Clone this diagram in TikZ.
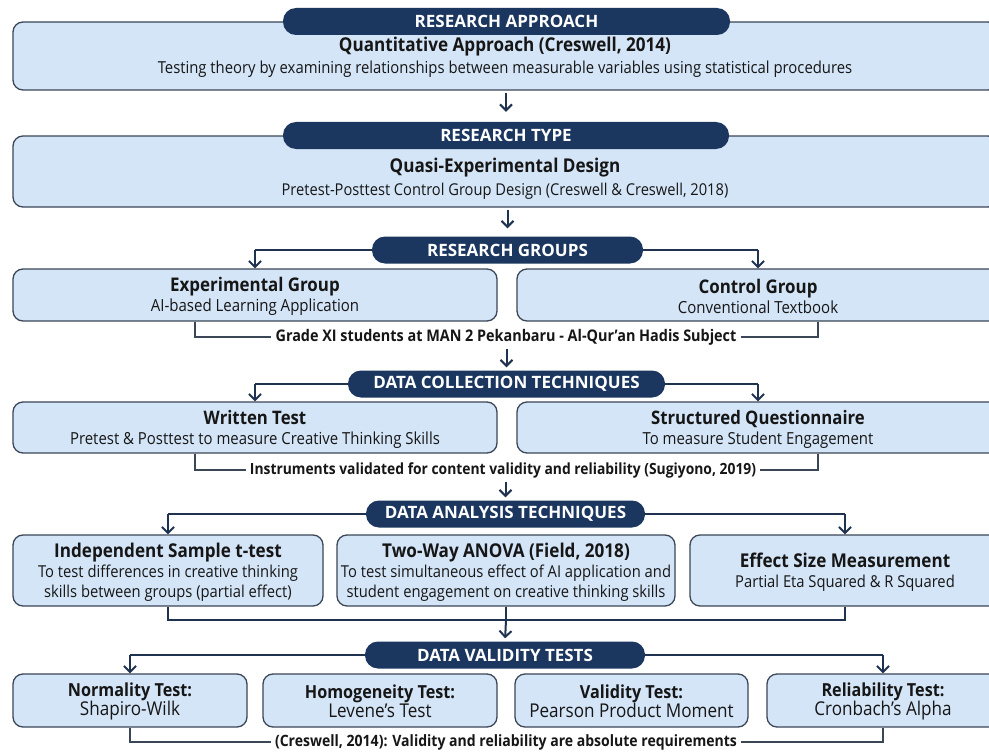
\documentclass[tikz,border=0pt]{standalone}
\usepackage{fontspec}
\setmainfont{Open Sans}[FakeStretch=0.9]
\newfontfamily\bannerfont{Open Sans}
\usetikzlibrary{arrows.meta,calc}
\definecolor{navy}{HTML}{1B365F}
\definecolor{boxfill}{HTML}{D4E5F7}
\definecolor{boxline}{HTML}{3B4656}
\definecolor{conn}{HTML}{1F3350}
\definecolor{txt}{HTML}{161616}
\tikzset{
 box/.style={draw=boxline, line width=1.3pt, fill=boxfill, rounded corners=10pt, inner sep=0pt},
 label text/.style={align=center, inner sep=0pt, text=txt},
 banner/.style={fill=navy, text=white, rounded corners=13pt, minimum height=27pt, inner sep=0pt, font=\bannerfont\fontsize{17}{18}\selectfont\bfseries},
 arr/.style={draw=conn, line width=2pt, -{Straight Barb[length=6pt,width=12pt]}},
 link/.style={draw=conn, line width=2.2pt},
 brk/.style={draw=boxline, line width=1.4pt},
 note/.style={font=\fontsize{16}{18}\selectfont\bfseries, text=txt, inner sep=4pt}
}
\newcommand{\hd}[2]{{\fontsize{#1}{#1}\selectfont\bfseries #2}}
\begin{document}
\begin{tikzpicture}[x=1pt,y=-1pt]
\fill[white] (0,0) rectangle (989,752);
\clip (0,0) rectangle (989,752);
% ---------- Row 1
\node[box, minimum width=985pt, minimum height=68pt] (b1) at (505.5,56) {};
\node[label text, font=\fontsize{16.5}{22}\selectfont] (b1t) at (505,57.5)
 {\hd{19}{Quantitative Approach (Creswell, 2014)}\\Testing theory by examining relationships between measurable variables using statistical procedures};
\node[banner, minimum width=447pt] (p1) at (506.5,21.5) {RESEARCH APPROACH};
% ---------- Row 2
\node[box, minimum width=985pt, minimum height=71pt] (b2) at (505.5,171.5) {};
\node[label text, font=\fontsize{16.3}{23}\selectfont] (b2t) at (505,179)
 {\hd{19}{Quasi-Experimental Design}\\Pretest-Posttest Control Group Design (Creswell \& Creswell, 2018)};
\node[banner, minimum width=446pt] (p2) at (506,135.5) {RESEARCH TYPE};
\draw[arr, shorten >=10pt, shorten <=2pt] (b1.south -| p2.north) -- (p2.north);
% ---------- Row 3
\node[banner, minimum width=271pt] (p3) at (507.5,250) {RESEARCH GROUPS};
\draw[arr, shorten >=8pt, shorten <=2pt] (b2.south -| p3.north) -- (p3.north);
\node[box, minimum width=484pt, minimum height=52pt] (g1) at (255,295) {};
\node[label text, font=\fontsize{16.7}{20}\selectfont] (g1t) at (255,296)
 {\hd{18.8}{Experimental Group}\\AI-based Learning Application};
\node[box, minimum width=482pt, minimum height=52pt] (g2) at (758,295) {};
\node[label text, font=\fontsize{16.7}{20}\selectfont] (g2t) at (758,296)
 {\hd{18.8}{Control Group}\\Conventional Textbook};
\draw[link] (p3.west) -- (p3.west -| g1.north) coordinate (c3l);
\draw[arr] (c3l) -- (g1.north);
\draw[link] (p3.east) -- (p3.east -| g2.north) coordinate (c3r);
\draw[arr] (c3r) -- (g2.north);
\node[note] (n3) at (506,337) {Grade XI students at MAN 2 Pekanbaru - Al-Qur'an Hadis Subject};
\coordinate (k3l) at (195,337);
\coordinate (k3r) at (818,337);
\draw[brk] (g1.south -| k3l) -- (k3l) -- (n3.west);
\draw[brk] (n3.east) -- (k3r) -- (g2.south -| k3r);
% ---------- Row 4
\node[banner, minimum width=317pt] (p4) at (506.5,384) {DATA COLLECTION TECHNIQUES};
\draw[arr, shorten >=3pt] (n3.south -| p4.north) -- (p4.north);
\node[box, minimum width=484pt, minimum height=51pt] (w1) at (255,427.5) {};
\node[label text, font=\fontsize{16.6}{20}\selectfont] (w1t) at (255,429)
 {\hd{18.6}{Written Test}\\Pretest \& Posttest to measure Creative Thinking Skills};
\node[box, minimum width=482pt, minimum height=51pt] (w2) at (758,427.5) {};
\node[label text, font=\fontsize{16.6}{20}\selectfont] (w2t) at (758,429)
 {\hd{18.6}{Structured Questionnaire}\\To measure Student Engagement};
\draw[link] (p4.west) -- (p4.west -| w1.north) coordinate (c4l);
\draw[arr] (c4l) -- (w1.north);
\draw[link] (p4.east) -- (p4.east -| w2.north) coordinate (c4r);
\draw[arr] (c4r) -- (w2.north);
\node[note, font=\fontsize{15.4}{18}\selectfont\bfseries] (n4) at (503,470) {Instruments validated for content validity and reliability (Sugiyono, 2019)};
\coordinate (k4l) at (195,470);
\coordinate (k4r) at (818,470);
\draw[brk] (w1.south -| k4l) -- (k4l) -- (n4.west);
\draw[brk] (n4.east) -- (k4r) -- (w2.south -| k4r);
% ---------- Row 5
\node[banner, minimum width=279pt] (p5) at (505.5,514) {DATA ANALYSIS TECHNIQUES};
\draw[arr, shorten >=3pt] (n4.south -| p5.north) -- (p5.north);
\node[box, minimum width=310pt, minimum height=71pt] (t1) at (168,570.5) {};
\node[label text, font=\fontsize{16.4}{20}\selectfont] (t1t) at (168,572)
 {\hd{19}{Independent Sample t-test}\\To test differences in creative thinking\\skills between groups (partial effect)};
\node[box, minimum width=338pt, minimum height=71pt] (t2) at (506,570.5) {};
\node[label text, font=\fontsize{16.4}{20}\selectfont] (t2t) at (506,572)
 {\hd{19}{Two-Way ANOVA (Field, 2018)}\\To test simultaneous effect of AI application and\\student engagement on creative thinking skills};
\node[box, minimum width=310pt, minimum height=71pt] (t3) at (845,570.5) {};
\node[label text, font=\fontsize{16.4}{20}\selectfont] (t3t) at (845,572)
 {\hd{19}{Effect Size Measurement}\\Partial Eta Squared \& R Squared};
\draw[link] (p5.west) -- (p5.west -| t1.north) coordinate (c5l);
\draw[arr] (c5l) -- (t1.north);
\draw[link] (p5.east) -- (p5.east -| t3.north) coordinate (c5r);
\draw[arr] (c5r) -- (t3.north);
\coordinate (m5) at (506,620);
\draw[link] (t1.south) -- (t1.south |- m5) -- (t3.south |- m5) -- (t3.south);
% ---------- Row 6
\node[banner, minimum width=280pt] (p6) at (505,655) {DATA VALIDITY TESTS};
\draw[link] (t2.south) -- (m5);
\draw[arr, shorten >=3pt] (m5) -- (p6.north);
\node[box, minimum width=234pt, minimum height=53pt] (v1) at (130,700.5) {};
\node[label text, font=\fontsize{19}{19}\selectfont] (v1t) at (130,701.5) {\hd{18}{Normality Test:}\\Shapiro-Wilk};
\node[box, minimum width=234pt, minimum height=53pt] (v2) at (380,700.5) {};
\node[label text, font=\fontsize{19}{19}\selectfont] (v2t) at (380,701.5) {\hd{18}{Homogeneity Test:}\\Levene's Test};
\node[box, minimum width=233pt, minimum height=53pt] (v3) at (631.5,700.5) {};
\node[label text, font=\fontsize{19}{19}\selectfont] (v3t) at (631.5,701.5) {\hd{18}{Validity Test:}\\Pearson Product Moment};
\node[box, minimum width=232pt, minimum height=53pt] (v4) at (883,700.5) {};
\node[label text, font=\fontsize{19}{19}\selectfont] (v4t) at (883,701.5) {\hd{18}{Reliability Test:}\\Cronbach's Alpha};
\draw[link] (p6.west) -- (p6.west -| v1.north) coordinate (c6l);
\draw[arr] (c6l) -- (v1.north);
\draw[link] (p6.east) -- (p6.east -| v4.north) coordinate (c6r);
\draw[arr] (c6r) -- (v4.north);
\node[note, font=\fontsize{15.6}{18}\selectfont\bfseries] (n6) at (506,742) {(Creswell, 2014): Validity and reliability are absolute requirements};
\draw[brk] (v1.south) -- (v1.south |- n6) -- (n6.west);
\draw[brk] (n6.east) -- (v4.south |- n6) -- (v4.south);
\end{tikzpicture}
\end{document}
